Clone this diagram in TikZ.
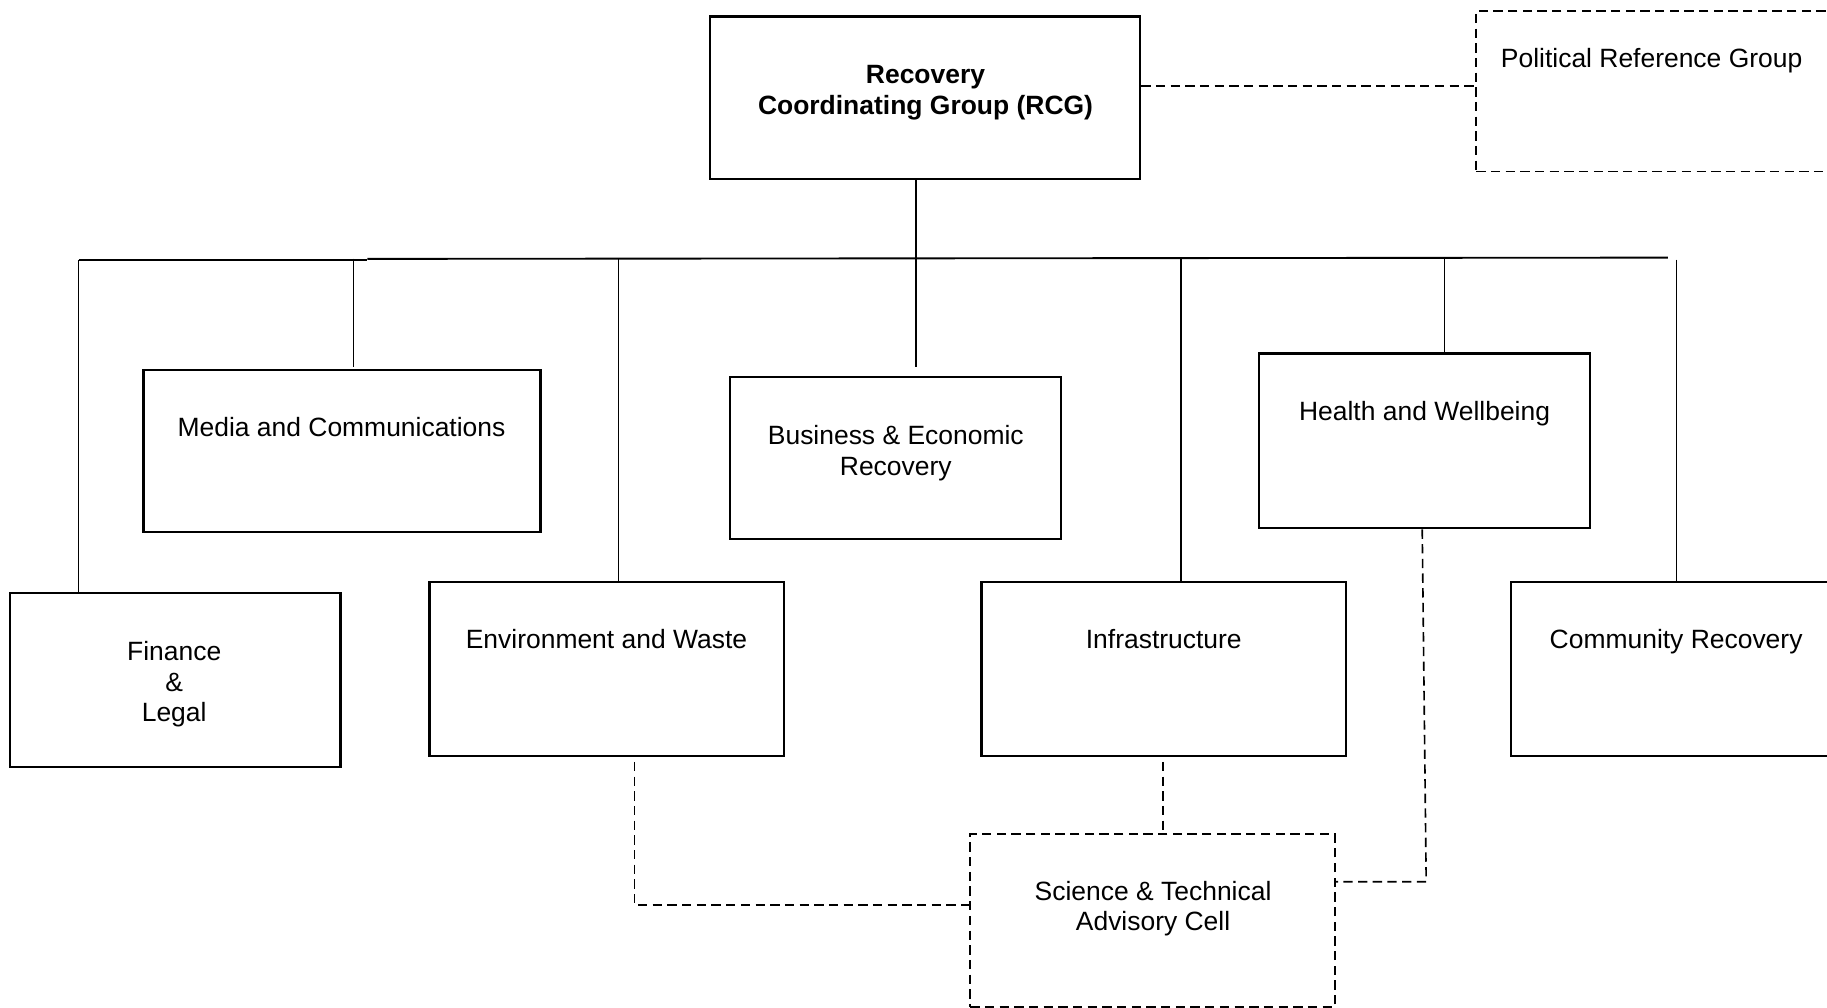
\documentclass[tikz,border=0pt]{standalone}
\usepackage{fontspec}
\setmainfont{Liberation Sans}
\usetikzlibrary{fit}
\newcommand{\mlines}[1]{\begin{tabular}[t]{@{}c@{}}#1\end{tabular}}
\begin{document}
\begin{tikzpicture}[x=0.5pt,y=-0.5pt,
  font=\fontsize{11.35}{13.25}\selectfont,
  box/.style={draw=black, line width=1pt, inner sep=0pt, fit={#1}},
  dbox/.style={draw=black, line width=0.7pt, dash pattern=on 4pt off 2.3pt, inner sep=0pt, fit={#1}},
  lbl/.style={anchor=base, inner sep=0pt},
  conn/.style={line width=0.6pt},
  busline/.style={line width=0.8pt},
  dconn/.style={line width=0.7pt, dash pattern=on 4pt off 2.3pt}]

\useasboundingbox (0,0) rectangle (1568,865);
\clip (0,0) rectangle (1568,865);

% boxes
\node[box={(609.3,14.3) (978.4,153.6)}] (rcg) {};
\node[dbox={(1267,9.4) (1600,147.3)}] (prg) {};
\node[box={(123.2,317.8) (464,456.5)}] (media) {};
\node[box={(626.6,323.6) (910.4,462.7)}] (busi) {};
\node[box={(1080.5,303.5) (1364.6,452.9)}] (health) {};
\node[box={(8.4,509.1) (292.1,658.4)}] (fin) {};
\node[box={(368.5,499.7) (673,648.7)}] (env) {};
\node[box={(842.4,499.7) (1155.1,648.7)}] (infra) {};
\node[box={(1296.7,499.7) (1600,648.7)}] (comm) {};
\node[dbox={(832.7,715.8) (1145.6,864)}] (sci) {};

% texts
\node[lbl] (rcgT) at (794.3,72) {\mlines{\textbf{Recovery}\\\textbf{Coordinating Group (RCG)}}};
\node[lbl] (prgT) at (1417.5,58.3) {Political Reference Group};
\node[lbl] (mediaT) at (293.1,374.3) {Media and Communications};
\node[lbl] (busiT) at (768.8,381.3) {\mlines{Business \& Economic\\Recovery}};
\node[lbl] (healthT) at (1222.6,360.8) {Health and Wellbeing};
\node[lbl] (finT) at (149.5,566.6) {\mlines{Finance\\\&\\Legal}};
\node[lbl] (envT) at (520.5,556.3) {Environment and Waste};
\node[lbl] (infraT) at (998.8,556.3) {Infrastructure};
\node[lbl] (commT) at (1438.5,556.3) {Community Recovery};
\node[lbl] (sciT) at (989.6,772.5) {\mlines{Science \& Technical\\Advisory Cell}};

% coordinates of the bus and free ends
\coordinate (bL) at (67.5,223.3);
\coordinate (bStep) at (315.2,223.3);
\coordinate (bStep2) at (315.2,222.2);
\coordinate (bR) at (1431.5,221.1);
\coordinate (bMedia) at (303.5,222.0);
\coordinate (eMedia) at (303.5,314.8);
\coordinate (bEnv) at (530.6,222.2);
\coordinate (bBusi) at (786.1,222.0);
\coordinate (eBusi) at (786.1,314.8);
\coordinate (bInfra) at (1013.5,221.7);
\coordinate (bHealth) at (1239.9,221.4);
\coordinate (sComm) at (1438.8,222.8);
\coordinate (yPrg) at (0,73.8);
\coordinate (sEnvD) at (544.4,653.9);
\coordinate (cEnvD) at (544.4,776.7);
\coordinate (sInfraD) at (998.2,653.9);
\coordinate (sHealthD) at (1220.6,454.4);
\coordinate (cHealthD) at (1224.0,756.7);

% solid connectors
\draw[busline] (bL) -- (bStep);
\draw[busline] (bStep2) -- (bR);
\draw[conn] (bL) -- (bL |- fin.north);
\draw[conn] (bMedia) -- (eMedia);
\draw[conn] (bEnv) -- (bEnv |- env.north);
\draw[conn] (rcg.south -| bBusi) -- (eBusi);
\draw[conn] (bInfra) -- (bInfra |- infra.north);
\draw[conn] (bHealth) -- (bHealth |- health.north);
\draw[conn] (sComm) -- (sComm |- comm.north);

% dashed connectors
\draw[dconn] (rcg.east |- yPrg) -- (prg.west |- yPrg);
\draw[dconn] (sEnvD) -- (cEnvD) -- (sci.west |- cEnvD);
\draw[dconn] (sInfraD) -- (sInfraD |- sci.north);
\draw[dconn] (sHealthD) -- (cHealthD) -- (sci.east |- cHealthD);
\end{tikzpicture}
\end{document}
